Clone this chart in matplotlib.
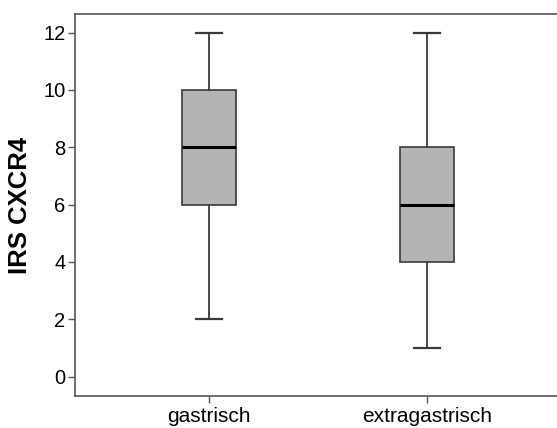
import matplotlib
matplotlib.use("Agg")
import matplotlib.pyplot as plt

categories = ["gastrisch", "extragastrisch"]
whislo = [2, 1]
q1 = [6, 4]
med = [8, 6]
q3 = [10, 8]
whishi = [12, 12]
yticks = [0, 2, 4, 6, 8, 10, 12]

fig = plt.figure(figsize=(5.57, 4.28), dpi=100)
ax = fig.add_axes([75/557, 1-396/428, 1.02-75/557, (396-14)/428])

stats = []
for i, c in enumerate(categories):
    stats.append(dict(label=c, whislo=whislo[i], q1=q1[i], med=med[i], q3=q3[i], whishi=whishi[i], fliers=[]))

edge = "#3a3a3a"
ax.bxp(stats, positions=[1, 2], widths=0.25, patch_artist=True, showfliers=False,
       boxprops=dict(facecolor="#b4b4b4", edgecolor=edge, linewidth=1.2),
       medianprops=dict(color="black", linewidth=2.2),
       whiskerprops=dict(color=edge, linewidth=1.3),
       capprops=dict(color=edge, linewidth=1.6),
       capwidths=0.123)

ax.set_xlim(0.385, 2.647)
ax.set_ylim(-0.68, 12.65)
ax.set_yticks(yticks)
ax.set_yticklabels([str(v) for v in yticks], fontsize=14.5, family="Liberation Sans")
ax.set_xticks([1, 2])
ax.set_xticklabels(categories, fontsize=15, family="Liberation Sans")
ax.set_ylabel("IRS CXCR4", fontsize=18.5, fontweight="bold", family="Liberation Sans", labelpad=8)
ax.spines["right"].set_visible(False)
for s in ["left", "bottom", "top"]:
    ax.spines[s].set_color("#555555")
    ax.spines[s].set_linewidth(1.2)
ax.tick_params(axis="both", direction="out", length=5, width=1, color="#555555", pad=2)
ax.tick_params(axis="x", pad=3)

fig.savefig("out.png", dpi=100)
